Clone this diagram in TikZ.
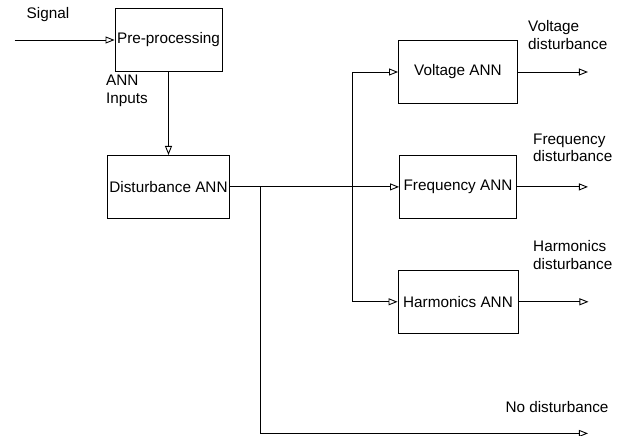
\documentclass[tikz,border=0pt]{standalone}
\usepackage{fontspec}
\setmainfont{Liberation Sans}
\usetikzlibrary{arrows.meta}
\usetikzlibrary{positioning}

\begin{document}
\begin{tikzpicture}[
				x=1pt, y=-1pt,
				font=\fontsize{15.3}{17.5}\selectfont,
				arrow/.style={line width=0.9pt, -{Triangle[open, length=9pt, width=7pt]}},
				block/.style={draw, line width=0.9pt, inner sep=2pt, minimum height=63pt},
				caption/.style={inner sep=0pt, align=left},
			]
				\useasboundingbox (0,0) rectangle (624,436);

				\node[block, minimum width=107pt] (preprocessing) at (168.5,40) {Pre-processing};
				\node[block, minimum width=122pt, below=83pt of preprocessing] (disturbance) {Disturbance ANN};
				\node[block, minimum width=117pt, right=169pt of disturbance] (frequency) {Frequency ANN};
				\node[block, minimum width=119pt, above=51pt of frequency] (voltage) {Voltage ANN};
				\node[block, minimum width=120pt, below=51pt of frequency] (harmonics) {Harmonics ANN};

				\coordinate[left=100pt of preprocessing.west] (in);
				\coordinate[right=30pt of disturbance.east] (nosplit);
				\coordinate[left=47pt of frequency.west] (annsplit);
				\coordinate[right=70pt of voltage.east] (voltageout);
				\coordinate[right=71pt of frequency.east] (frequencyout);
				\coordinate[right=70pt of harmonics.east] (harmonicsout);
				\coordinate[below=246.5pt of nosplit] (nocorner);
				\coordinate (noout) at (voltageout |- nocorner);

				\draw[arrow] (in) -- (preprocessing.west);
				\draw[arrow] (preprocessing) -- (disturbance);
				\draw[arrow] (disturbance) -- (frequency);
				\draw[arrow] (annsplit) |- (voltage.west);
				\draw[arrow] (annsplit) |- (harmonics.west);
				\draw[arrow] (nosplit) |- (noout);

				\draw[arrow] (voltage) -- (voltageout);
				\draw[arrow] (frequency) -- (frequencyout);
				\draw[arrow] (harmonics) -- (harmonicsout);

				\node[caption] (signal) at (48,15) {Signal};
				\node[caption, anchor=west] (anninputs) at (106,91) {ANN\\Inputs};
				\node[caption, anchor=west] (voltagelabel) at (528,35) {Voltage\\disturbance};
				\node[caption, anchor=west] (frequencylabel) at (533,148) {Frequency\\disturbance};
				\node[caption, anchor=west] (harmonicslabel) at (533,255) {Harmonics\\disturbance};
				\node[caption] (nolabel) at (557,407) {No disturbance};
			\end{tikzpicture}
\end{document}
